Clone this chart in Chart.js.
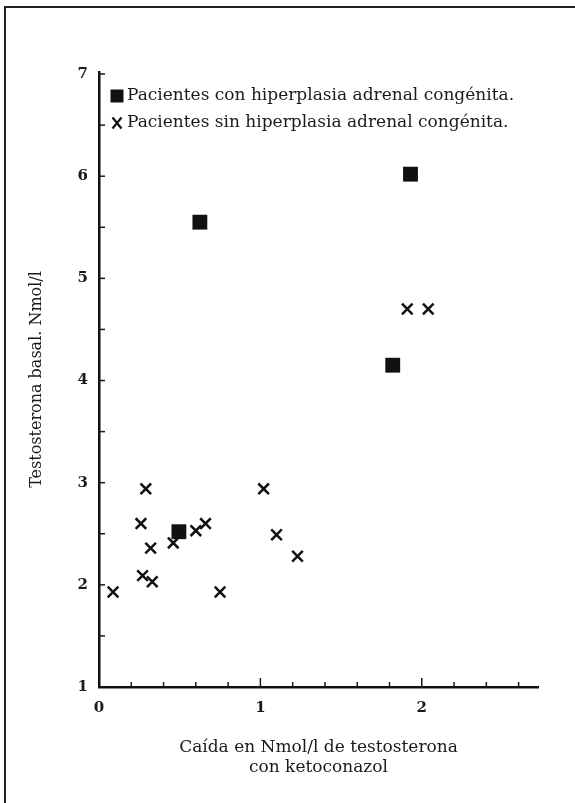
<!DOCTYPE html>
<html lang="es">
<head>
    <meta charset="UTF-8">
    <title>Testosterona basal</title>
    <script src="https://cdn.jsdelivr.net/npm/chart.js"></script>
    <style>
        body { margin: 0; background: #fff; }
        #wrap { position: relative; width: 575px; height: 803px; }
        #frame {
            position: absolute; left: 4px; top: 6px; right: 0; bottom: 0;
            border-left: 2px solid #222; border-top: 2px solid #222;
            pointer-events: none;
        }
    </style>
</head>
<body>
<div id="wrap">
    <canvas id="graph" width="575" height="803"></canvas>
    <div id="frame"></div>
</div>
<script>
    // valores
    let con_x = [0.625, 1.93, 1.82, 0.495];
    let con_y = [5.55, 6.02, 4.15, 2.52];

    let sin_x = [0.087, 0.29, 0.26, 0.32, 0.27, 0.33, 0.46, 0.60, 0.66, 0.75, 1.02, 1.10, 1.23, 1.91, 2.04];
    let sin_y = [1.93, 2.94, 2.60, 2.36, 2.09, 2.03, 2.41, 2.53, 2.60, 1.93, 2.94, 2.49, 2.28, 4.70, 4.70];

    let x_labels = [0, 1, 2];
    let y_labels = [1, 2, 3, 4, 5, 6, 7];

    let serif = "'DejaVu Serif', 'Liberation Serif', serif";

    function points(xs, ys) {
        return xs.map((x, i) => ({x: x, y: ys[i]}));
    }

    // marcas de division hacia adentro, como en el original
    const innerTicks = {
        id: 'innerTicks',
        afterDatasetsDraw(chart) {
            let ctx = chart.ctx;
            let sx = chart.scales.x, sy = chart.scales.y;
            let a = chart.chartArea;
            ctx.save();
            ctx.strokeStyle = '#1a1a1a';
            ctx.lineWidth = 1.5;
            for (let i = 1; i <= 13; i++) {
                let px = sx.getPixelForValue(i * 0.2);
                let len = (i % 5 === 0) ? 9 : 5;
                ctx.beginPath();
                ctx.moveTo(px, a.bottom);
                ctx.lineTo(px, a.bottom - len);
                ctx.stroke();
            }
            for (let i = 3; i <= 14; i++) {
                let py = sy.getPixelForValue(i * 0.5);
                ctx.beginPath();
                ctx.moveTo(a.left - 1, py);
                ctx.lineTo(a.left + 6, py);
                ctx.stroke();
            }
            ctx.restore();
        }
    };

    // leyenda dentro del area del grafico, arriba a la izquierda
    const insideLegend = {
        id: 'insideLegend',
        afterDatasetsDraw(chart) {
            let ctx = chart.ctx;
            let a = chart.chartArea;
            ctx.save();
            ctx.font = '17px ' + serif;
            ctx.textBaseline = 'middle';
            chart.data.datasets.forEach((ds, i) => {
                let cx = a.left + 18;
                let cy = a.top + 24 + i * 27;
                ctx.fillStyle = ds.backgroundColor;
                ctx.strokeStyle = ds.borderColor;
                if (ds.pointStyle === 'rect') {
                    ctx.fillRect(cx - 6.5, cy - 6.5, 13, 13);
                } else {
                    ctx.lineWidth = 2.2;
                    ctx.beginPath();
                    ctx.moveTo(cx - 4.5, cy - 5.5);
                    ctx.lineTo(cx + 4.5, cy + 5.5);
                    ctx.moveTo(cx + 4.5, cy - 5.5);
                    ctx.lineTo(cx - 4.5, cy + 5.5);
                    ctx.stroke();
                }
                ctx.fillStyle = '#1a1a1a';
                ctx.fillText(ds.label, a.left + 28, cy);
            });
            ctx.restore();
        }
    };

    let chart = new Chart(document.getElementById('graph'), {
        type: 'scatter',
        data: {
            datasets: [
                {
                    label: 'Pacientes con hiperplasia adrenal congénita.',
                    data: points(con_x, con_y),
                    pointStyle: 'rect',
                    pointRadius: 10.5,
                    backgroundColor: '#111',
                    borderColor: '#111',
                    borderWidth: 0,
                },
                {
                    label: 'Pacientes sin hiperplasia adrenal congénita.',
                    data: points(sin_x, sin_y),
                    pointStyle: 'crossRot',
                    pointRadius: 7.5,
                    backgroundColor: '#111',
                    borderColor: '#111',
                    borderWidth: 2.5,
                },
            ],
        },
        options: {
            responsive: false,
            animation: false,
            events: [],
            layout: {
                padding: {left: 9, right: 37, top: 72, bottom: 21},
            },
            plugins: {
                legend: {display: false},
                tooltip: {enabled: false},
            },
            scales: {
                x: {
                    type: 'linear',
                    min: 0,
                    max: 2.72,
                    afterBuildTicks: (s) => { s.ticks = x_labels.map(v => ({value: v})); },
                    afterFit: (s) => { s.height = 95; },
                    grid: {display: false, drawTicks: false},
                    border: {display: true, color: '#111', width: 2.5},
                    ticks: {
                        padding: 12,
                        color: '#1a1a1a',
                        font: {family: serif, size: 15, weight: 'bold'},
                    },
                    title: {
                        display: true,
                        text: ['Caída en Nmol/l de testosterona', 'con ketoconazol'],
                        color: '#1a1a1a',
                        padding: {top: 0, bottom: 4},
                        font: {family: serif, size: 17, lineHeight: 1.2},
                    },
                },
                y: {
                    type: 'linear',
                    min: 1,
                    max: 7.02,
                    afterBuildTicks: (s) => { s.ticks = y_labels.map(v => ({value: v})); },
                    afterFit: (s) => { s.width = 90; },
                    grid: {display: false, drawTicks: false},
                    border: {display: true, color: '#111', width: 2.5},
                    ticks: {
                        padding: 11,
                        color: '#1a1a1a',
                        font: {family: serif, size: 15, weight: 'bold'},
                    },
                    title: {
                        display: true,
                        text: 'Testosterona basal. Nmol/l',
                        color: '#1a1a1a',
                        padding: {top: 18, bottom: 0},
                        font: {family: serif, size: 16, lineHeight: 1.2},
                    },
                },
            },
        },
        plugins: [innerTicks, insideLegend],
    });
</script>
</body>
</html>
